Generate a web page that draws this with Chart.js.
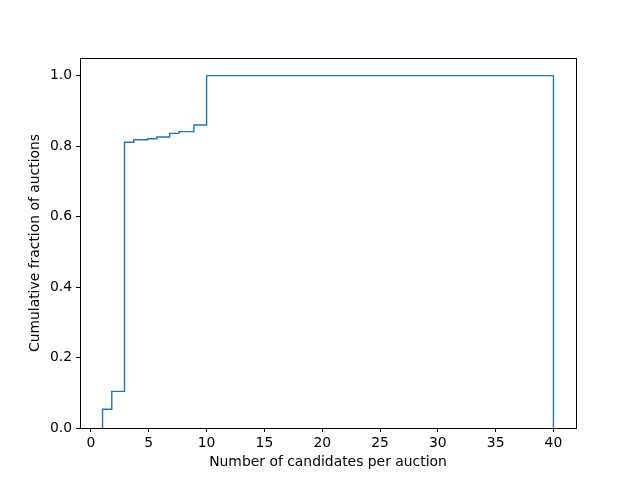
<!DOCTYPE html>
<html><head><meta charset="utf-8">
<script src="https://cdn.jsdelivr.net/npm/chart.js@4/dist/chart.umd.min.js"></script>
<style>html,body{margin:0;padding:0;background:#fff}canvas{display:block}</style>
</head><body>
<canvas id="c" width="640" height="480"></canvas>
<script>
// Bin edges where the cumulative fraction steps
const binEdges = [1, 1.8, 2.9, 3.7, 4.9, 5.7, 6.8, 7.6, 8.9, 10, 40];
// Cumulative fraction of auctions for each bin (between consecutive edges)
const cumulativeFraction = [0.053, 0.104, 0.811, 0.818, 0.821, 0.826, 0.836, 0.841, 0.860, 1.0];
const xTicks = [0, 5, 10, 15, 20, 25, 30, 35, 40];
const yTicks = [0, 0.2, 0.4, 0.6, 0.8, 1.0];

const pts = [{x: binEdges[0], y: 0}];
for (let i = 0; i < cumulativeFraction.length; i++) {
  pts.push({x: binEdges[i], y: cumulativeFraction[i]});
  pts.push({x: binEdges[i + 1], y: cumulativeFraction[i]});
}
pts.push({x: binEdges[binEdges.length - 1], y: 0});

const FONT = {family: 'DejaVu Sans', size: 13.9};
Chart.defaults.color = '#000';

const frame = {
  id: 'frame',
  afterDatasetsDraw(chart) {
    const a = chart.chartArea, ctx = chart.ctx;
    ctx.save();
    ctx.strokeStyle = '#000';
    ctx.lineWidth = 1;
    ctx.strokeRect(Math.round(a.left) + 0.5, Math.round(a.top) + 0.5, Math.round(a.right - a.left), Math.round(a.bottom - a.top));
    ctx.restore();
  }
};

new Chart(document.getElementById('c'), {
  type: 'line',
  data: {datasets: [{
    data: pts,
    borderColor: '#1f77b4',
    borderWidth: 1.4,
    pointRadius: 0,
    fill: false,
    tension: 0
  }]},
  options: {
    responsive: false,
    animation: false,
    layout: {padding: {top: 58, right: 64, left: 0, bottom: 0}},
    plugins: {legend: {display: false}, tooltip: {enabled: false}},
    scales: {
      x: {
        type: 'linear', min: -0.95, max: 41.95,
        afterBuildTicks: s => { s.ticks = xTicks.map(v => ({value: v})); },
        afterFit: s => { s.height = 52; },
        grid: {display: true, drawOnChartArea: false, drawTicks: true, tickLength: 4, color: '#000'},
        border: {display: false},
        ticks: {font: FONT, padding: 3, maxRotation: 0, callback: v => String(v)},
        title: {display: true, text: 'Number of candidates per auction', font: FONT, padding: {top: 0, bottom: 9}}
      },
      y: {
        type: 'linear', min: 0, max: 1.05,
        afterBuildTicks: s => { s.ticks = yTicks.map(v => ({value: v})); },
        afterFit: s => { s.width = 80; },
        grid: {display: true, drawOnChartArea: false, drawTicks: true, tickLength: 4, color: '#000'},
        border: {display: false},
        ticks: {font: FONT, padding: 4, callback: v => Number(v).toFixed(1)},
        title: {display: true, text: 'Cumulative fraction of auctions', font: FONT, padding: {top: 27, bottom: 0}}
      }
    }
  },
  plugins: [frame]
});
</script>
</body></html>
